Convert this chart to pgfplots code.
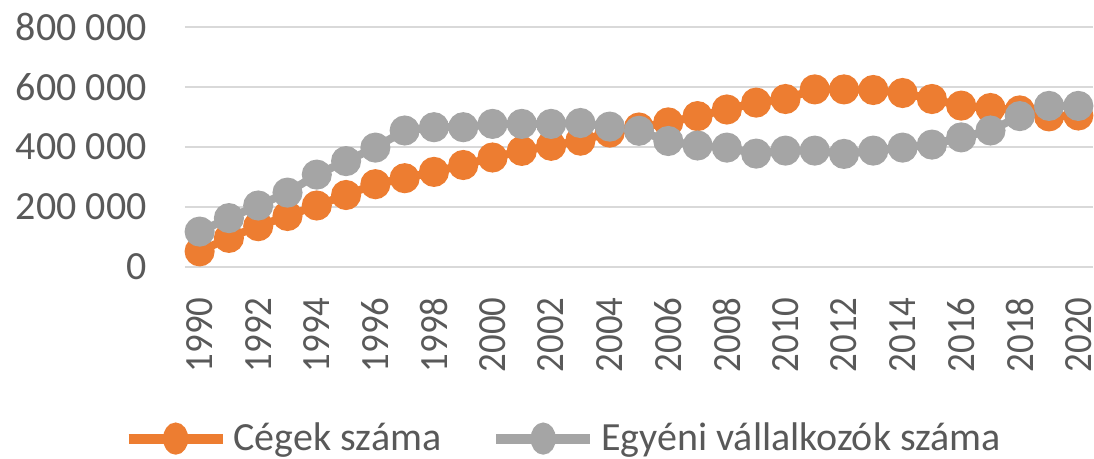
\documentclass[border=0pt]{standalone}
\usepackage{graphicx}
\usepackage{pgfplots}
\pgfplotsset{compat=1.18}
\usepackage{fontspec}
\setmainfont{Carlito}
\definecolor{corange}{HTML}{ED7D31}
\definecolor{cgray}{HTML}{A5A5A5}
\definecolor{cgrid}{HTML}{D9D9D9}
\definecolor{ctext}{HTML}{595959}
\newcommand{\xl}[1]{\scalebox{0.92}[1]{#1}}
\pgfplotstableread{
year cegek egyeni
1990 52000 118000
1991 97000 163000
1992 136000 205000
1993 170000 248000
1994 205000 308000
1995 240000 353000
1996 276000 398000
1997 296000 455000
1998 317000 466000
1999 340000 466000
2000 365000 477000
2001 387000 477000
2002 404000 477000
2003 421000 480000
2004 448000 468000
2005 465000 454000
2006 482000 420000
2007 503000 405000
2008 525000 398000
2009 548000 378000
2010 560000 388000
2011 592000 388000
2012 592000 377000
2013 590000 388000
2014 580000 398000
2015 560000 408000
2016 538000 432000
2017 530000 455000
2018 522000 503000
2019 502000 537000
2020 505000 537000
}\datatable
\begin{document}
\begin{tikzpicture}
\begin{axis}[
  name=ax,
  at={(0,0)}, anchor=south west,
  scale only axis,
  width=454pt, height=120pt,
  xmin=1989.5, xmax=2020.5,
  ymin=0, ymax=800000,
  axis line style={draw=none},
  major tick length=0pt,
  ymajorgrids,
  grid style={cgrid, line width=1pt},
  ytick={0,200000,400000,600000,800000},
  yticklabels={0,200 000,400 000,600 000,800 000},
  scaled y ticks=false,
  xtick={1990,1992,...,2020},
  xticklabels={\xl{1990},\xl{1992},\xl{1994},\xl{1996},\xl{1998},\xl{2000},\xl{2002},\xl{2004},\xl{2006},\xl{2008},\xl{2010},\xl{2012},\xl{2014},\xl{2016},\xl{2018},\xl{2020}},
  tick label style={font=\fontsize{20}{24}\selectfont, text=ctext, inner sep=0pt},
  yticklabel style={anchor=east},
  yticklabel shift=19pt,
  xticklabel style={rotate=90, anchor=east},
  xticklabel shift=15pt,
  legend style={at={(-0.068,-0.715)}, anchor=west, draw=none, fill=none,
    font=\fontsize{20}{24}\selectfont, text=ctext,
    legend columns=2, inner sep=0pt,
    nodes={inner sep=0pt},
    /tikz/every odd column/.append style={column sep=3pt},
    /tikz/every even column/.append style={column sep=25pt}},
  legend cell align=left,
  legend image code/.code={\draw[#1, line width=5pt] (0pt,0pt) -- (47pt,0pt); \fill[#1] (23.5pt,0pt) ellipse [x radius=4.3pt, y radius=6pt];},
  clip=false,
]
\addplot[corange, line width=4pt, mark=*, mark size=5.5pt, mark options={solid, draw=none, fill=corange}] table[x=year,y=cegek] {\datatable};
\addlegendentry{Cégek száma}
\addplot[cgray, line width=4pt, mark=*, mark size=5.5pt, mark options={solid, draw=none, fill=cgray}] table[x=year,y=egyeni] {\datatable};
\addlegendentry{Egyéni vállalkozók száma}
\end{axis}
\pgfresetboundingbox
\path (-92.5pt,-96pt) rectangle (454.5pt,133.5pt);
\end{tikzpicture}
\end{document}
